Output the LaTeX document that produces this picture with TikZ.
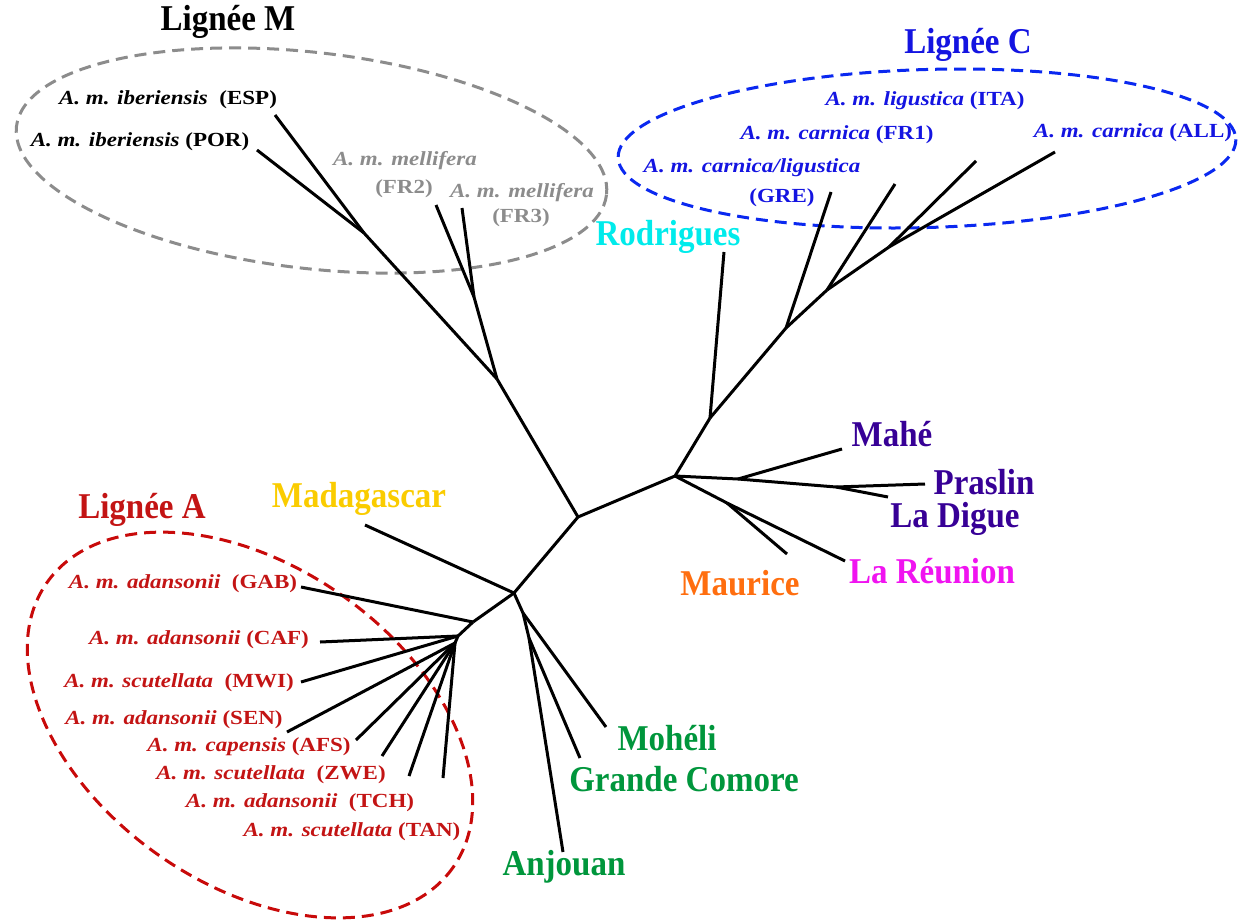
\documentclass[tikz,border=0pt]{standalone}
\usepackage{fontspec}
\setmainfont{Liberation Serif}
\usepackage{graphicx}
\definecolor{mgray}{RGB}{140,140,140}
\definecolor{cblue}{RGB}{20,20,225}
\definecolor{cdash}{RGB}{10,40,240}
\definecolor{ared}{RGB}{195,20,20}
\definecolor{adash}{RGB}{200,10,10}
\definecolor{rodcol}{RGB}{0,235,235}
\definecolor{seycol}{RGB}{55,0,150}
\definecolor{reucol}{RGB}{240,20,240}
\definecolor{maucol}{RGB}{255,110,15}
\definecolor{madcol}{RGB}{250,204,0}
\definecolor{comcol}{RGB}{0,150,60}
\newcommand\taxon[2]{\scalebox{1.15}[1]{\textit{#1} #2}}
\newcommand\taxit[1]{\scalebox{1.15}[1]{\textit{#1}}}
\newcommand\taxup[1]{\scalebox{1.15}[1]{#1}}
\newcommand\tall[1]{\scalebox{1}[1.1]{#1}}
\begin{document}
\begin{tikzpicture}[x=1pt,y=-1pt,
  branch/.style={line width=3pt},
  big/.style={font=\fontsize{33}{38}\selectfont\bfseries, inner sep=0pt},
  small/.style={font=\fontsize{20}{24}\selectfont\bfseries, inner sep=0pt},
  clade/.style={line width=3pt, dash pattern=on 12pt off 7pt}]
\useasboundingbox (0,0) rectangle (1238,921);

% clade ellipses
\draw[clade, mgray, rotate around={-6.6:(311.5,160.5)}] (311.5,160.5) ellipse [x radius=297, y radius=108];
\draw[clade, cdash, rotate around={1.7:(927,148.5)}] (927,148.5) ellipse [x radius=309, y radius=79];
\draw[clade, adash, rotate around={-35:(250,725)}] (250,725) ellipse [x radius=248, y radius=159];

% tree coordinates
\coordinate (X0) at (578,517);
\coordinate (S) at (675,476);
\coordinate (NM) at (497,379);
\coordinate (L) at (514,593);
% M lineage
\coordinate (Nib) at (364,233);
\coordinate (eESP) at (275,115);
\coordinate (ePOR) at (257,150);
\coordinate (Nmel) at (474,297);
\coordinate (eFR2) at (436,205);
\coordinate (eFR3) at (462,208);
% C lineage + Rodrigues
\coordinate (C0) at (710,418);
\coordinate (eROD) at (724,252);
\coordinate (C1) at (786,328);
\coordinate (eGRE) at (831,192);
\coordinate (C2) at (827,290);
\coordinate (eFR1) at (895,184);
\coordinate (C3) at (889,247);
\coordinate (eITA) at (976,161);
\coordinate (eALL) at (1055,152);
% Seychelles, Reunion, Maurice
\coordinate (Sh) at (738,479);
\coordinate (eMAH) at (842,449);
\coordinate (P) at (836,487);
\coordinate (ePRA) at (925,484);
\coordinate (eDIG) at (888,497);
\coordinate (RM) at (727,503);
\coordinate (eREU) at (845,561);
\coordinate (eMAU) at (787,554);
% A lineage, Madagascar
\coordinate (eMAD) at (365,525);
\coordinate (A1) at (473,622);
\coordinate (eGAB) at (301,587);
\coordinate (A2) at (458,636);
\coordinate (A3) at (455,643);
\coordinate (eCAF) at (320,642);
\coordinate (eMWI) at (301,682);
\coordinate (eSEN) at (287,732);
\coordinate (eAFS) at (356,740);
\coordinate (eZWE) at (382,756);
\coordinate (eTCH) at (409,776);
\coordinate (eTAN) at (443,778);
% Comoros
\coordinate (K1) at (523,613);
\coordinate (eMOH) at (606,727);
\coordinate (K2) at (529,638);
\coordinate (eGC) at (580,758);
\coordinate (eANJ) at (563,852);

% branches
\draw[branch] (X0) -- (S);
\draw[branch] (X0) -- (NM);
\draw[branch] (X0) -- (L);
\draw[branch] (NM) -- (Nib);
\draw[branch] (Nib) -- (eESP);
\draw[branch] (Nib) -- (ePOR);
\draw[branch] (NM) -- (Nmel);
\draw[branch] (Nmel) -- (eFR2);
\draw[branch] (Nmel) -- (eFR3);
\draw[branch] (S) -- (C0);
\draw[branch] (C0) -- (eROD);
\draw[branch] (C0) -- (C1);
\draw[branch] (C1) -- (eGRE);
\draw[branch] (C1) -- (C2);
\draw[branch] (C2) -- (eFR1);
\draw[branch] (C2) -- (C3);
\draw[branch] (C3) -- (eITA);
\draw[branch] (C3) -- (eALL);
\draw[branch] (S) -- (Sh);
\draw[branch] (Sh) -- (eMAH);
\draw[branch] (Sh) -- (P);
\draw[branch] (P) -- (ePRA);
\draw[branch] (P) -- (eDIG);
\draw[branch] (S) -- (RM);
\draw[branch] (RM) -- (eREU);
\draw[branch] (RM) -- (eMAU);
\draw[branch] (L) -- (eMAD);
\draw[branch] (L) -- (A1);
\draw[branch] (A1) -- (eGAB);
\draw[branch] (A1) -- (A2);
\draw[branch] (A2) -- (eCAF);
\draw[branch] (A2) -- (eMWI);
\draw[branch] (A2) -- (A3);
\draw[branch] (A3) -- (eSEN);
\draw[branch] (A3) -- (eAFS);
\draw[branch] (A3) -- (eZWE);
\draw[branch] (A3) -- (eTCH);
\draw[branch] (A3) -- (eTAN);
\draw[branch] (L) -- (K1);
\draw[branch] (K1) -- (eMOH);
\draw[branch] (K1) -- (K2);
\draw[branch] (K2) -- (eGC);
\draw[branch] (K2) -- (eANJ);

% labels: lineage M
\node[big] (tM) at (228,22) {\tall{Lignée M}};
\node[small] (tESP) at (168,100) {\taxon{A. m. iberiensis}{~(ESP)}};
\node[small] (tPOR) at (140,142) {\taxon{A. m. iberiensis}{(POR)}};
\node[small, mgray] (tMEL2) at (405,161) {\taxit{A. m. mellifera}};
\node[small, mgray] (tFR2) at (404,189) {\taxup{(FR2)}};
\node[small, mgray] (tMEL3) at (522,193) {\taxit{A. m. mellifera}};
\node[small, mgray] (tFR3) at (521,218) {\taxup{(FR3)}};

% labels: lineage C
\node[big, cblue] (tC) at (968,45) {\tall{Lignée C}};
\node[small, cblue] (tITA) at (925,101) {\taxon{A. m. ligustica}{(ITA)}};
\node[small, cblue] (tFR1) at (837,135) {\taxon{A. m. carnica}{(FR1)}};
\node[small, cblue] (tCL) at (752,168) {\taxit{A. m. carnica/ligustica}};
\node[small, cblue] (tGRE) at (782,198) {\taxup{(GRE)}};
\node[small, cblue] (tALL) at (1133,133) {\taxon{A. m. carnica}{(ALL)}};

% islands
\node[big, rodcol] (tROD) at (668,237) {\tall{Rodrigues}};
\node[big, seycol] (tMAH) at (892,434) {\tall{Mahé}};
\node[big, seycol] (tPRA) at (984,482) {\tall{Praslin}};
\node[big, seycol] (tDIG) at (955,519) {\tall{La Digue}};
\node[big, reucol] (tREU) at (932,571) {\tall{La Réunion}};
\node[big, maucol] (tMAU) at (740,583) {\tall{Maurice}};
\node[big, madcol] (tMAD) at (359,499) {\tall{Madagascar}};
\node[big, comcol] (tMOH) at (667,738) {\tall{Mohéli}};
\node[big, comcol] (tGC) at (684,779) {\tall{Grande Comore}};
\node[big, comcol] (tANJ) at (564,867) {\tall{Anjouan}};

% labels: lineage A
\node[big, ared] (tA) at (142,510) {\tall{Lignée A}};
\node[small, ared] (tGAB) at (183,584) {\taxon{A. m. adansonii}{~(GAB)}};
\node[small, ared] (tCAF) at (199,640) {\taxon{A. m. adansonii}{(CAF)}};
\node[small, ared] (tMWI) at (179,683) {\taxon{A. m. scutellata}{~(MWI)}};
\node[small, ared] (tSEN) at (174,720) {\taxon{A. m. adansonii}{(SEN)}};
\node[small, ared] (tAFS) at (249,747) {\taxon{A. m. capensis}{(AFS)}};
\node[small, ared] (tZWE) at (271,775) {\taxon{A. m. scutellata}{~(ZWE)}};
\node[small, ared] (tTCH) at (300,803) {\taxon{A. m. adansonii}{~(TCH)}};
\node[small, ared] (tTAN) at (352,832) {\taxon{A. m. scutellata}{(TAN)}};
\end{tikzpicture}
\end{document}
